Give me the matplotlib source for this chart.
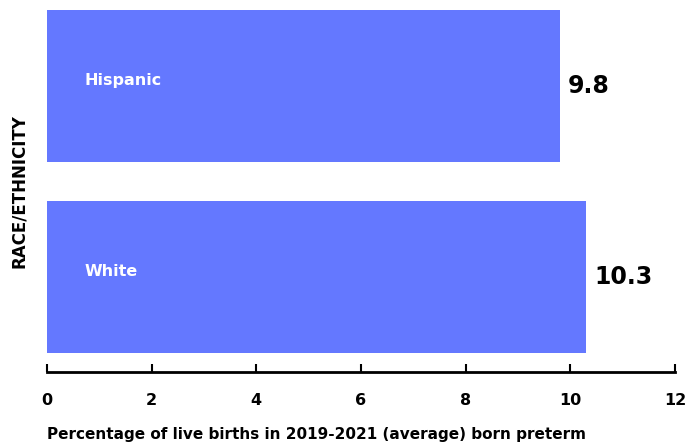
import matplotlib.pyplot as plt

categories = ['Hispanic', 'White']
values = [9.8, 10.3]
xticks = [0, 2, 4, 6, 8, 10, 12]

bar_color = '#6478ff'

fig = plt.figure(figsize=(6.86, 4.43), dpi=100)
ax = fig.add_axes([47 / 686, 1 - 372 / 443, 628 / 686, 362 / 443])

pos = range(len(categories))
ax.barh(pos, values, height=0.8, color=bar_color)

for i, (cat, val) in enumerate(zip(categories, values)):
    ax.text(0.72, i - 0.03, cat, color='white', fontsize=11.5, fontweight='bold',
            va='center', ha='left')
    ax.text(val + 0.15, i, f'{val}', color='black', fontsize=17, fontweight='bold',
            va='center', ha='left')

ax.set_xlim(0, 12)
ax.set_ylim(1.5, -0.4)
ax.set_xticks(xticks)
ax.set_xticklabels([str(t) for t in xticks], fontweight='bold', fontsize=11.5)
ax.set_yticks([])

for s in ['top', 'right', 'left']:
    ax.spines[s].set_visible(False)
ax.spines['bottom'].set_linewidth(2)
ax.tick_params(axis='x', direction='in', length=6, width=1.5, pad=15)

ax.set_xlabel('Percentage of live births in 2019-2021 (average) born preterm',
              fontweight='bold', fontsize=11, loc='left', labelpad=14)
ax.set_ylabel('RACE/ETHNICITY', fontweight='bold', fontsize=12, labelpad=14)

fig.savefig('out.png', dpi=100)
